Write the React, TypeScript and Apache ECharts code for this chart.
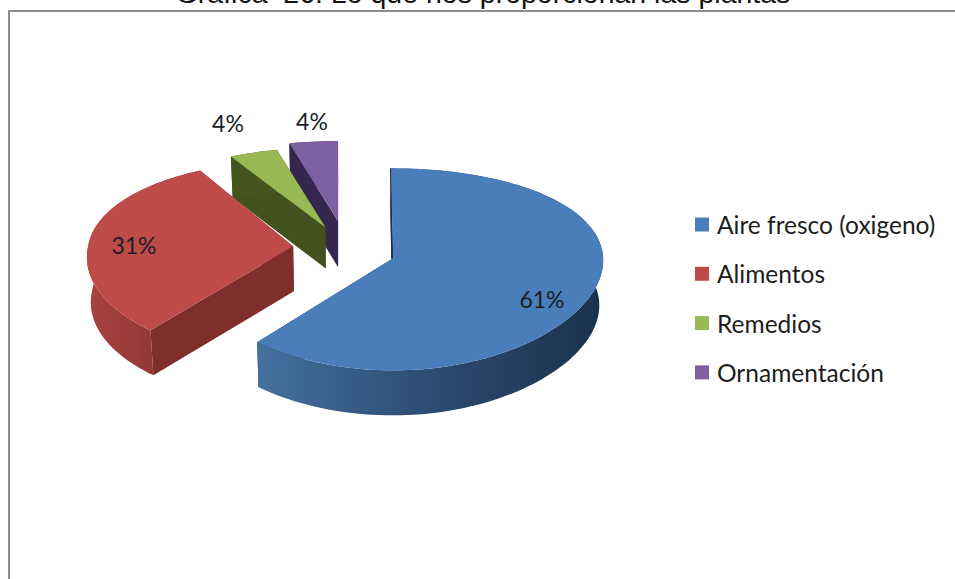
import React, { useEffect, useRef } from "react";
import * as echarts from "echarts";

const TITLE = "Gráfica  26: Lo que nos proporcionan las plantas";
const categories = ["Aire fresco (oxigeno)", "Alimentos", "Remedios", "Ornamentación"];
const values = [61, 31, 4, 4];
const topColors = ["#4a7ebb", "#be4b48", "#98b954", "#7d60a0"];
const sideColors = [
  ["#43719f", "#2c4c72", "#1a314c"],
  ["#a8423f", "#973a37", "#8a3431"],
  ["#46551f", "#46551f", "#46551f"],
  ["#35264f", "#35264f", "#35264f"],
];
const faceColors = ["#1c3553", "#7f2e2c", "#43511f", "#35264f"];
const labelTexts = ["61%", "31%", "4%", "4%"];
const labelAnchors = [[542, 299], [134, 245], [228, 123], [312, 121]];
const drawOrder = [3, 2, 1, 0];

const CX = 344.5, CY = 249;
const EXPLODE_X = 51.6;
const explodeY = [28, 28, 23, 28];
const radiusX = [210, 205, 205, 205];
const perspFront = [0.02, 0.109, 0.109, 0.109];
const perspBack = [0.02, 0.07, 0.05, 0.05];
const backScale = [1, 0.95, 0.89, 0.89];
const depths = [45, 45, 41, 46];
const A = 99.8, B = 0.109, SHRINK = 0.015, ROT = -0.6;
const FONT = "Lato, 'Open Sans', sans-serif";
const total = values.reduce((s, v) => s + v, 0);
const rad = (d: number) => (d * Math.PI) / 180;

function apexOf(idx: number, mid: number) {
  return [CX + EXPLODE_X * Math.sin(rad(mid)), CY - explodeY[idx] * Math.cos(rad(mid))];
}
function proj(idx: number, ap: number[], deg: number, r: number, low: boolean) {
  const s = Math.sin(rad(deg)), v = -Math.cos(rad(deg)) * r;
  const p = v < 0 ? perspBack[idx] : perspFront[idx];
  let x = ap[0] + (radiusX[idx] * s * r) / (1 - p * v);
  let y = ap[1] + ((A * v) / (1 - B * v)) * (v < 0 ? backScale[idx] : 1);
  if (low) {
    x = CX + (x - CX) * (1 - SHRINK);
    y += depths[idx];
  }
  return [x, y];
}

function sliceItem(idx: number, value: number) {
  const before = values.slice(0, idx).reduce((s, v) => s + v, 0);
  const a0 = (before / total) * 360 + (idx === 0 ? ROT : 0);
  const a1 = ((before + value) / total) * 360;
  const mid = (a0 + a1) / 2;
  const ap = apexOf(idx, mid);
  const arc = (low: boolean) => {
    const pts: number[][] = [];
    const n = Math.max(4, Math.ceil((a1 - a0) / 2));
    for (let i = 0; i <= n; i++) pts.push(proj(idx, ap, a0 + ((a1 - a0) * i) / n, 1, low));
    return pts;
  };
  const apLow = proj(idx, ap, a0, 0, true);
  const topArc = arc(false);
  const lowArc = arc(true);
  const first = topArc[0], last = topArc[topArc.length - 1];
  const firstLow = lowArc[0], lastLow = lowArc[lowArc.length - 1];
  const xs = topArc.map((p) => p[0]);
  const grad = {
    type: "linear", global: true,
    x: Math.min(...xs), y: 0, x2: Math.max(...xs), y2: 0,
    colorStops: [
      { offset: 0, color: sideColors[idx][0] },
      { offset: 0.5, color: sideColors[idx][1] },
      { offset: 1, color: sideColors[idx][2] },
    ],
  };
  const children: any[] = [
    { type: "polygon", shape: { points: [ap, last, lastLow, apLow] }, style: { fill: faceColors[idx] } },
    { type: "polygon", shape: { points: [ap, first, firstLow, apLow] }, style: { fill: faceColors[idx] } },
    { type: "polygon", shape: { points: [...topArc, ...lowArc.slice().reverse()] }, style: { fill: grad } },
  ];
  if (idx === 0) {
    children.push({
      type: "polygon",
      shape: { points: [[first[0] - 1, first[1]], [ap[0] - 2, ap[1]], ap, first] },
      style: { fill: "#1c3553" },
    });
  }
  children.push({ type: "polygon", shape: { points: [ap, ...topArc] }, style: { fill: topColors[idx] } });
  children.push({
    type: "text",
    style: {
      text: labelTexts[idx], x: labelAnchors[idx][0], y: labelAnchors[idx][1],
      fill: "#1a1f26", font: `23px ${FONT}`, align: "center", verticalAlign: "middle",
    },
  });
  return { type: "group", children };
}

export default function App() {
  const ref = useRef<HTMLDivElement>(null);
  useEffect(() => {
    const chart = echarts.init(ref.current!, undefined, { renderer: "svg" });
    chart.setOption({
      animation: false,
      backgroundColor: "#ffffff",
      title: {
        text: TITLE, left: 478, top: -27, textAlign: "center",
        textStyle: { fontFamily: "'Liberation Sans', Arial, sans-serif", fontWeight: "normal", fontSize: 28.5, color: "#111111" },
      },
      legend: {
        orient: "vertical", left: 690, top: 207, itemWidth: 14, itemHeight: 14, itemGap: 24.3,
        icon: "rect", data: categories,
        textStyle: { fontFamily: FONT, fontSize: 24.5, color: "#1c1c1c", lineHeight: 24, padding: [0, 0, 0, 3] },
      },
      graphic: [
        { type: "polyline", shape: { points: [[9, 579], [9, 11], [955, 11]] }, style: { stroke: "#8c8c8c", lineWidth: 2, fill: "none" } },
      ],
      series: drawOrder.map((i) => ({
        type: "custom",
        name: categories[i],
        coordinateSystem: "none",
        itemStyle: { color: topColors[i] },
        data: [[values[i]]],
        renderItem: (_p: any, api: any) => sliceItem(i, api.value(0)),
      })),
    });
    return () => chart.dispose();
  }, []);
  return <div ref={ref} style={{ position: "absolute", left: 0, top: 0, width: 955, height: 579 }} />;
}
